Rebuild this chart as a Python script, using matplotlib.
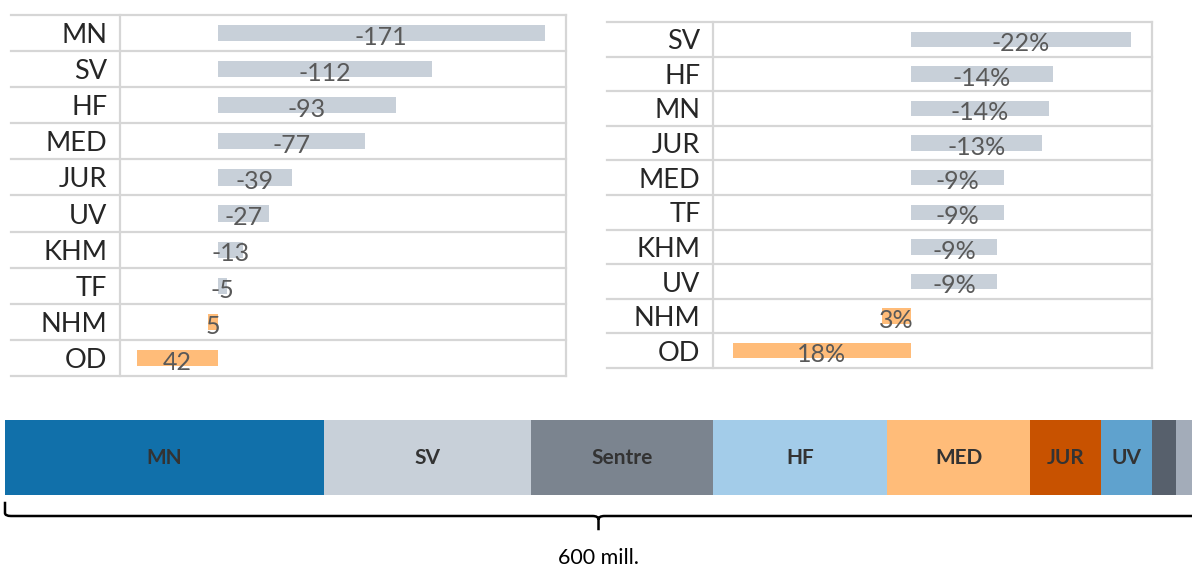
import numpy as np
import matplotlib
matplotlib.use('Agg')
import matplotlib.pyplot as plt
from matplotlib.path import Path
from matplotlib.patches import PathPatch
from matplotlib.transforms import blended_transform_factory

# left table: change in mill.
left_units = ['MN', 'SV', 'HF', 'MED', 'JUR', 'UV', 'KHM', 'TF', 'NHM', 'OD']
left_values = [-171, -112, -93, -77, -39, -27, -13, -5, 5, 42]

# right table: change in percent
right_units = ['SV', 'HF', 'MN', 'JUR', 'MED', 'TF', 'KHM', 'UV', 'NHM', 'OD']
right_values = [-22.0, -14.2, -13.8, -13.1, -9.3, -9.3, -8.6, -8.6, 2.9, 17.8]

# bottom stacked bar: budget per unit (mill.)
stack_units = ['MN', 'SV', 'Sentre', 'HF', 'MED', 'JUR', 'UV', '', '']
stack_values = [161, 105, 92, 88, 72, 36, 26, 12, 8]
stack_colors = ['#1170aa', '#c8d0d9', '#7b848f', '#a3cce9', '#ffbc79',
                '#c85200', '#5fa2ce', '#57606c', '#a3acb9']
total_label = '600 mill.'

W, H = 1192, 567
NEG = '#c8d0d9'
POS = '#ffbc79'
GRID = '#d6d6d6'


def box(l, t, r, b):
    return [l / W, 1 - b / H, (r - l) / W, (b - t) / H]


fig = plt.figure(figsize=(W / 100, H / 100), dpi=100)


def table(ax, units, values, xlim, fmt, line_left):
    n = len(units)
    pos = np.arange(n)
    colors = [NEG if v < 0 else POS for v in values]
    ax.barh(pos, values, height=0.45, color=colors, zorder=2)
    for p, v in zip(pos, values):
        ax.text(v / 2, p + 0.12, fmt(v), ha='center', va='center',
                fontsize=18, color='#595959', family='Lato', zorder=3)
    ax.set_xlim(*xlim)
    ax.set_ylim(n - 0.5, -0.5)
    ax.set_yticks(pos)
    ax.set_yticklabels(units, fontsize=19.5, family='Lato', color='#262626')
    ax.tick_params(axis='y', length=0, pad=9)
    ax.set_xticks([])
    for y in np.arange(n + 1) - 0.5:
        ax.axhline(y, xmin=line_left, xmax=1, color=GRID, lw=1.6,
                   clip_on=False, zorder=1)
    for s in ['top', 'bottom']:
        ax.spines[s].set_visible(False)
    for s in ['left', 'right']:
        ax.spines[s].set_color(GRID)
        ax.spines[s].set_linewidth(1.6)


ax1 = fig.add_axes(box(120, 15, 566, 376))
table(ax1, left_units, left_values, (51, -182), lambda v: f'{v:.0f}',
      (11 - 120) / 446)

ax2 = fig.add_axes(box(713, 22, 1152, 368))
table(ax2, right_units, right_values, (19.8, -24.1), lambda v: f'{v:.0f}%',
      (607 - 713) / 439)

# stacked bar
ax3 = fig.add_axes(box(5, 420, 1192, 495))
lefts = np.concatenate([[0], np.cumsum(stack_values)[:-1]])
total = sum(stack_values)
ax3.barh(0, stack_values, left=lefts, height=1, color=stack_colors)
for l, v, u in zip(lefts, stack_values, stack_units):
    ax3.text(l + v / 2, 0, u, ha='center', va='center', fontsize=15,
             fontweight='bold', family='Lato', color='#333333')
ax3.set_xlim(0, total)
ax3.set_ylim(-0.5, 0.5)
ax3.axis('off')

# brace under the bar
tr = blended_transform_factory(ax3.transData, ax3.transAxes)
mid = total / 2
r = 3
verts = [(0, -0.09), (0, -0.24), (0, -0.28), (r, -0.28),
         (mid - r, -0.28), (mid, -0.28), (mid, -0.33), (mid, -0.47),
         (mid, -0.33), (mid, -0.28), (mid + r, -0.28), (total + 5, -0.28)]
codes = [Path.MOVETO, Path.LINETO, Path.CURVE3, Path.CURVE3,
         Path.LINETO, Path.CURVE3, Path.CURVE3, Path.LINETO,
         Path.MOVETO, Path.CURVE3, Path.CURVE3, Path.LINETO]
ax3.add_patch(PathPatch(Path(verts, codes), fill=False, lw=1.8, color='black',
                        transform=tr, clip_on=False, capstyle='butt'))
ax3.text(mid, -0.84, total_label, transform=tr, ha='center', va='center',
         fontsize=15.5, family='Lato', color='black')

fig.savefig('out.png', dpi=100, facecolor='white')
